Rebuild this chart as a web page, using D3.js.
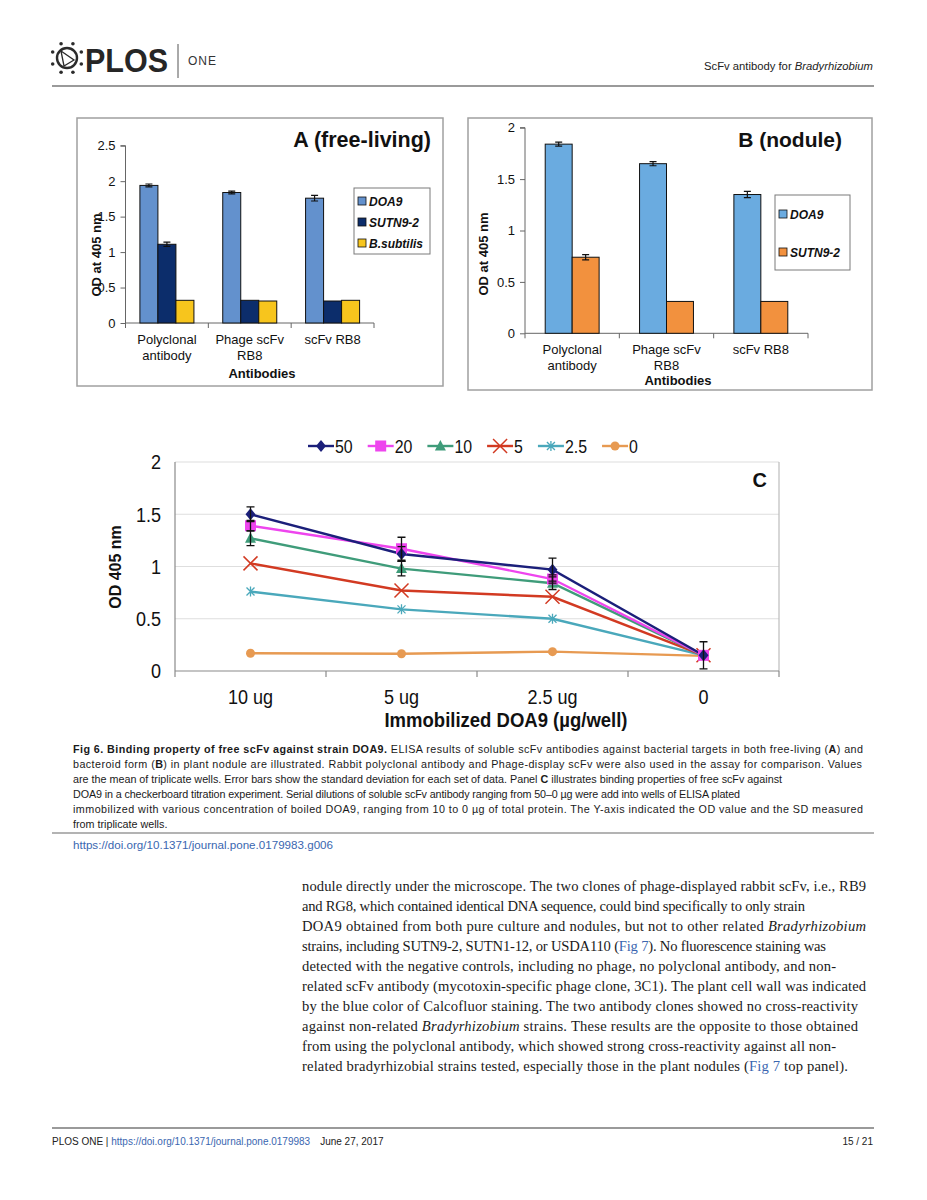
<!DOCTYPE html>
<html><head><meta charset="utf-8">
<script src="https://cdn.jsdelivr.net/npm/d3@7"></script>
<style>body{margin:0;background:#fff} svg{display:block}</style>
</head><body><svg id="page" width="927" height="1200"></svg>
<script>
// ---------- DATA ----------
const antibodyCategories = ["Polyclonal antibody", "Phage scFv RB8", "scFv RB8"];
const antibodyLabelLines = [["Polyclonal", "antibody"], ["Phage scFv", "RB8"], ["scFv RB8"]];

const seriesA = ["DOA9", "SUTN9-2", "B.subtilis"];
const valuesA_DOA9 = [1.94, 1.84, 1.76];
const valuesA_SUTN = [1.11, 0.32, 0.31];
const valuesA_Bsub = [0.32, 0.31, 0.32];
const errA_DOA9 = [0.02, 0.02, 0.04];
const errA_SUTN = [0.03, 0, 0];
const errA_Bsub = [0, 0, 0];
const ticksA = [0, 0.5, 1, 1.5, 2, 2.5];

const seriesB = ["DOA9", "SUTN9-2"];
const valuesB_DOA9 = [1.84, 1.65, 1.35];
const valuesB_SUTN = [0.74, 0.31, 0.31];
const errB_DOA9 = [0.02, 0.02, 0.03];
const errB_SUTN = [0.025, 0, 0];
const ticksB = [0, 0.5, 1, 1.5, 2];

const doseCategories = ["10 ug", "5 ug", "2.5 ug", "0"];
const scfvSeries = ["50", "20", "10", "5", "2.5", "0"];
const od50 = [1.50, 1.12, 0.97, 0.15];
const od20 = [1.39, 1.17, 0.88, 0.15];
const od10 = [1.27, 0.98, 0.84, 0.15];
const od5 = [1.03, 0.77, 0.71, 0.15];
const od2_5 = [0.76, 0.59, 0.50, 0.15];
const od0 = [0.17, 0.165, 0.185, 0.145];
const sd50 = [0.07, 0.07, 0.11, 0.13];
const sd20 = [0.05, 0.11, 0.04, 0];
const sd10 = [0.07, 0.07, 0.06, 0];
const sd5 = [0, 0, 0, 0];
const sd2_5 = [0, 0, 0, 0];
const sd0 = [0, 0, 0, 0];
const ticksC = [0, 0.5, 1, 1.5, 2];

// ---------- SETUP ----------
const SANS = "'Liberation Sans', Arial, sans-serif";
const SERIF = "'Liberation Serif', 'Times New Roman', serif";
const svg = d3.select("#page");
svg.append("rect").attr("width", 927).attr("height", 1200).attr("fill", "#fff");

// condensed text helper: places text at (x,y) with horizontal squeeze k
function ctext(parent, x, y, k, anchor) {
  return parent.append("text").attr("transform", `translate(${x},${y}) scale(${k},1)`).attr("x", 0).attr("y", 0)
    .attr("text-anchor", anchor || "start").attr("font-family", SANS);
}

// ---------- HEADER ----------
const hdr = svg.append("g");
const lc = [67, 58];
hdr.append("circle").attr("cx", lc[0]).attr("cy", lc[1]).attr("r", 10).attr("fill", "none").attr("stroke", "#2b2b2b").attr("stroke-width", 2.4);
hdr.append("path").attr("d", `M${lc[0]-6},${lc[1]-7} L${lc[0]+7},${lc[1]+2} L${lc[0]-3},${lc[1]+8} Z M${lc[0]-6},${lc[1]-7} L${lc[0]-3},${lc[1]+8}`)
  .attr("fill", "none").attr("stroke", "#2b2b2b").attr("stroke-width", 1.3);
d3.range(8).forEach(i => {
  const a = i * Math.PI / 4 + Math.PI / 8;
  hdr.append("circle").attr("cx", lc[0] + 15.5 * Math.cos(a)).attr("cy", lc[1] + 15.5 * Math.sin(a)).attr("r", 1.8).attr("fill", "#2b2b2b");
});
hdr.append("text").attr("x", 85).attr("y", 72).attr("font-family", SANS).attr("font-weight", 900).attr("font-size", 33)
  .attr("fill", "#262626").attr("textLength", 83).attr("lengthAdjust", "spacingAndGlyphs").text("PLOS");
hdr.append("line").attr("x1", 178).attr("x2", 178).attr("y1", 44).attr("y2", 78).attr("stroke", "#555").attr("stroke-width", 1);
hdr.append("text").attr("x", 188).attr("y", 65).attr("font-family", SANS).attr("font-size", 12).attr("letter-spacing", 1).attr("fill", "#333").text("ONE");
const hr = ctext(hdr, 873, 70, 0.98, "end").attr("font-size", 11.5).attr("fill", "#222");
hr.append("tspan").text("ScFv antibody for ");
hr.append("tspan").attr("font-style", "italic").text("Bradyrhizobium");
hdr.append("line").attr("x1", 52).attr("x2", 874).attr("y1", 86).attr("y2", 86).attr("stroke", "#9a9a9a").attr("stroke-width", 2);

// ---------- BAR PANELS ----------
function barPanel(o) {
  const g = svg.append("g");
  g.append("rect").attr("x", o.box[0]).attr("y", o.box[1]).attr("width", o.box[2]).attr("height", o.box[3])
    .attr("fill", "#fff").attr("stroke", "#a0a0a0").attr("stroke-width", 1.5);
  const y = d3.scaleLinear().domain([0, o.max]).range([o.y0, o.yTop]);
  const x0 = d3.scaleBand().domain(antibodyCategories).range([o.xL, o.xR]).paddingInner(0).paddingOuter(0);
  const x1 = d3.scaleBand().domain(o.series).range([0, x0.bandwidth()]).paddingInner(0).paddingOuter(o.pad);

  const yg = g.append("g").attr("transform", `translate(${o.xL},0)`)
    .call(d3.axisLeft(y).tickValues(o.ticks).tickSize(5).tickFormat(d3.format("~g")));
  yg.select(".domain").attr("stroke", "#666").attr("d", `M-5,${o.yTop}H0V${o.y0}`);
  yg.selectAll(".tick line").attr("stroke", "#666");
  yg.selectAll(".tick text").attr("font-family", SANS).attr("font-size", 13).attr("fill", "#111").attr("x", -10);

  const xg = g.append("g");
  xg.append("line").attr("x1", o.xL).attr("x2", o.xR).attr("y1", o.y0).attr("y2", o.y0).attr("stroke", "#666");
  const bounds = antibodyCategories.map(c => x0(c)).concat([o.xR]);
  xg.selectAll("line.tk").data(bounds).join("line").attr("class", "tk")
    .attr("x1", d => d).attr("x2", d => d).attr("y1", o.y0).attr("y2", o.y0 + 5).attr("stroke", "#666");
  antibodyCategories.forEach((c, i) => {
    const cx = x0(c) + x0.bandwidth() / 2;
    const t = g.append("text").attr("y", o.labY).attr("text-anchor", "middle").attr("font-family", SANS).attr("font-size", 13).attr("fill", "#111");
    antibodyLabelLines[i].forEach((ln, j) => t.append("tspan").attr("x", cx).attr("dy", j ? o.labDy : 0).text(ln));
  });
  g.append("text").attr("x", o.axTitle[0]).attr("y", o.axTitle[1]).attr("text-anchor", "middle").attr("font-family", SANS)
    .attr("font-weight", "bold").attr("font-size", 13).attr("fill", "#111").text("Antibodies");
  g.append("text").attr("transform", `translate(${o.yTitle[0]},${o.yTitle[1]}) rotate(-90)`).attr("text-anchor", "middle")
    .attr("font-family", SANS).attr("font-weight", "bold").attr("font-size", 13).attr("fill", "#111").text("OD at 405 nm");

  o.series.forEach((s, si) => {
    const vals = o.values[si], errs = o.errors[si];
    const data = antibodyCategories.map((c, i) => ({ c, v: vals[i], e: errs[i] }));
    g.selectAll(null).data(data).join("rect")
      .attr("x", d => x0(d.c) + x1(s)).attr("width", x1.bandwidth())
      .attr("y", d => y(d.v)).attr("height", d => o.y0 - y(d.v))
      .attr("fill", o.colors[si]).attr("stroke", "#111").attr("stroke-width", 1);
    const eb = data.filter(d => d.e > 0);
    const cx = d => x0(d.c) + x1(s) + x1.bandwidth() / 2;
    g.selectAll(null).data(eb).join("path")
      .attr("d", d => `M${cx(d) - 3.5},${y(d.v + d.e)}H${cx(d) + 3.5}M${cx(d)},${y(d.v + d.e)}V${y(d.v - d.e)}M${cx(d) - 3.5},${y(d.v - d.e)}H${cx(d) + 3.5}`)
      .attr("stroke", "#111").attr("stroke-width", 1.2).attr("fill", "none");
  });

  g.append("text").attr("x", o.title[0]).attr("y", o.title[1]).attr("text-anchor", "end").attr("font-family", SANS)
    .attr("font-weight", "bold").attr("font-size", o.titleSize).attr("fill", "#111").text(o.titleText);

  const lb = o.legend;
  g.append("rect").attr("x", lb.x).attr("y", lb.y).attr("width", lb.w).attr("height", lb.h).attr("fill", "#fff").attr("stroke", "#7a7a7a").attr("stroke-width", 1);
  o.series.forEach((s, si) => {
    const cy = lb.y + lb.first + si * lb.step;
    g.append("rect").attr("x", lb.x + 4).attr("y", cy - 4).attr("width", 8).attr("height", 8).attr("fill", o.colors[si]).attr("stroke", "#111").attr("stroke-width", 0.8);
    g.append("text").attr("x", lb.x + 15).attr("y", cy + 4.5).attr("font-family", SANS).attr("font-weight", "bold").attr("font-style", "italic")
      .attr("font-size", 12).attr("fill", "#111").text(s);
  });
}

barPanel({
  box: [77, 118, 366, 268], max: 2.5, ticks: ticksA, y0: 323, yTop: 145.7, xL: 125.5, xR: 374,
  pad: 0.8, series: seriesA, values: [valuesA_DOA9, valuesA_SUTN, valuesA_Bsub], errors: [errA_DOA9, errA_SUTN, errA_Bsub],
  colors: ["#6391cd", "#0c2d6b", "#f7c51d"], labY: 344, labDy: 16, axTitle: [262, 378], yTitle: [101, 255],
  title: [431, 147], titleSize: 21.5, titleText: "A (free-living)",
  legend: { x: 354, y: 188, w: 76, h: 66, first: 13, step: 21 }
});
barPanel({
  box: [468, 118, 404, 272], max: 2, ticks: ticksB, y0: 333.3, yTop: 127.7, xL: 525, xR: 808,
  pad: 0.75, series: seriesB, values: [valuesB_DOA9, valuesB_SUTN], errors: [errB_DOA9, errB_SUTN],
  colors: ["#6aabe0", "#f2913e"], labY: 354, labDy: 15.5, axTitle: [678, 384.5], yTitle: [488, 254],
  title: [842, 147], titleSize: 21, titleText: "B (nodule)",
  legend: { x: 775, y: 195, w: 75, h: 75, first: 19, step: 38 }
});

// ---------- PANEL C ----------
const KC = 0.86;
const gC = svg.append("g");
const yC = d3.scaleLinear().domain([0, 2]).range([671, 462]);
const xC = d3.scaleBand().domain(doseCategories).range([175, 779]);
gC.selectAll("line.grid").data(ticksC.filter(t => t > 0)).join("line").attr("class", "grid")
  .attr("x1", 175).attr("x2", 779).attr("y1", d => yC(d)).attr("y2", d => yC(d)).attr("stroke", "#dedede").attr("stroke-width", 1.2);
gC.append("line").attr("x1", 779).attr("x2", 779).attr("y1", yC(2)).attr("y2", yC(0)).attr("stroke", "#bdbdbd").attr("stroke-width", 1.2);
gC.append("line").attr("x1", 175).attr("x2", 175).attr("y1", yC(2)).attr("y2", yC(0)).attr("stroke", "#8a8a8a").attr("stroke-width", 1.2);
gC.append("line").attr("x1", 175).attr("x2", 779).attr("y1", yC(0)).attr("y2", yC(0)).attr("stroke", "#8a8a8a").attr("stroke-width", 1.2);
gC.selectAll("line.tk").data(doseCategories.map(c => xC(c)).concat([779])).join("line").attr("class", "tk")
  .attr("x1", d => d).attr("x2", d => d).attr("y1", yC(0)).attr("y2", yC(0) + 6).attr("stroke", "#8a8a8a").attr("stroke-width", 1.2);
ticksC.forEach(t => {
  ctext(gC, 161, yC(t) + 7.3, KC, "end").attr("font-size", 21).attr("fill", "#111").text(d3.format("~g")(t));
});
doseCategories.forEach(c => {
  ctext(gC, xC(c) + xC.bandwidth() / 2, 704, KC, "middle").attr("font-size", 21).attr("fill", "#111").text(c);
});
ctext(gC, 506, 727, 0.95, "middle").attr("font-weight", "bold").attr("font-size", 19.5).attr("fill", "#111").text("Immobilized DOA9 (µg/well)");
gC.append("text").attr("transform", "translate(121,567) rotate(-90)").attr("text-anchor", "middle").attr("font-family", SANS)
  .attr("font-weight", "bold").attr("font-size", 16).attr("fill", "#111").text("OD 405 nm");
ctext(gC, 767, 487, 0.95, "end").attr("font-weight", "bold").attr("font-size", 21).attr("fill", "#111").text("C");

const cSeries = [
  { name: scfvSeries[0], v: od50, sd: sd50, color: "#1b1f7a", marker: "diamond" },
  { name: scfvSeries[1], v: od20, sd: sd20, color: "#ee45ee", marker: "square" },
  { name: scfvSeries[2], v: od10, sd: sd10, color: "#3f9c7a", marker: "triangle" },
  { name: scfvSeries[3], v: od5, sd: sd5, color: "#d23a22", marker: "x" },
  { name: scfvSeries[4], v: od2_5, sd: sd2_5, color: "#4aa8bb", marker: "star" },
  { name: scfvSeries[5], v: od0, sd: sd0, color: "#e79a52", marker: "circle" }
];
function drawMarker(g, m, x, y, color) {
  if (m === "diamond") g.append("path").attr("d", `M${x},${y-6}L${x+5},${y}L${x},${y+6}L${x-5},${y}Z`).attr("fill", color);
  else if (m === "square") g.append("rect").attr("x", x - 5.5).attr("y", y - 5.5).attr("width", 11).attr("height", 11).attr("fill", color);
  else if (m === "triangle") g.append("path").attr("d", `M${x},${y-6}L${x+5.5},${y+4.5}L${x-5.5},${y+4.5}Z`).attr("fill", color);
  else if (m === "x") g.append("path").attr("d", `M${x-7},${y-7}L${x+7},${y+7}M${x+7},${y-7}L${x-7},${y+7}`).attr("stroke", color).attr("stroke-width", 1.5).attr("fill", "none");
  else if (m === "star") g.append("path").attr("d", `M${x-4},${y-4}L${x+4},${y+4}M${x+4},${y-4}L${x-4},${y+4}M${x},${y-5}L${x},${y+5}`).attr("stroke", color).attr("stroke-width", 1.3).attr("fill", "none");
  else g.append("circle").attr("cx", x).attr("cy", y).attr("r", 4.5).attr("fill", color);
}
const cx = c => xC(c) + xC.bandwidth() / 2;
const lineGen = d3.line().x(d => cx(d.c)).y(d => yC(d.v));
cSeries.slice().reverse().forEach(s => {
  const pts = doseCategories.map((c, i) => ({ c, v: s.v[i], e: s.sd[i] }));
  gC.append("path").datum(pts).attr("d", lineGen).attr("fill", "none").attr("stroke", s.color).attr("stroke-width", 2.4);
});
cSeries.slice().reverse().forEach(s => {
  const pts = doseCategories.map((c, i) => ({ c, v: s.v[i], e: s.sd[i] }));
  pts.forEach(p => drawMarker(gC, s.marker, cx(p.c), yC(p.v), s.color));
});
cSeries.forEach(s => {
  doseCategories.forEach((c, i) => {
    const e = s.sd[i], v = s.v[i], x = cx(c);
    if (e > 0) gC.append("path").attr("d", `M${x-4},${yC(v+e)}H${x+4}M${x},${yC(v+e)}V${yC(v-e)}M${x-4},${yC(v-e)}H${x+4}`)
      .attr("stroke", "#111").attr("stroke-width", 1.3).attr("fill", "none");
  });
});
// legend C
let lx = 308;
cSeries.forEach(s => {
  const ly = 446;
  gC.append("line").attr("x1", lx).attr("x2", lx + 26).attr("y1", ly).attr("y2", ly).attr("stroke", s.color).attr("stroke-width", 2.4);
  drawMarker(gC, s.marker, lx + 13, ly, s.color);
  const t = ctext(gC, lx + 27, ly + 6.5, KC, "start").attr("font-size", 18.5).attr("fill", "#111").text(s.name);
  lx += 27 + t.node().getComputedTextLength() * KC + 15;
});

// ---------- CAPTION ----------
const capLines = [
  { segs: [["b", "Fig 6. Binding property of free scFv against strain DOA9."], ["n", " ELISA results of soluble scFv antibodies against bacterial targets in both free-living ("], ["b", "A"], ["n", ") and"]], end: 863 },
  { segs: [["n", "bacteroid form ("], ["b", "B"], ["n", ") in plant nodule are illustrated. Rabbit polyclonal antibody and Phage-display scFv were also used in the assay for comparison. Values"]], end: 862 },
  { segs: [["n", "are the mean of triplicate wells. Error bars show the standard deviation for each set of data. Panel "], ["b", "C"], ["n", " illustrates binding properties of free scFv against"]], end: 782 },
  { segs: [["n", "DOA9 in a checkerboard titration experiment. Serial dilutions of soluble scFv antibody ranging from 50–0 µg were add into wells of ELISA plated"]], end: 740 },
  { segs: [["n", "immobilized with various concentration of boiled DOA9, ranging from 10 to 0 µg of total protein. The Y-axis indicated the OD value and the SD measured"]], end: 863 },
  { segs: [["n", "from triplicate wells."]], end: null }
];
const CAPFS = 11.8;
const capNodes = capLines.map((ln, i) => {
  const t = svg.append("text").attr("font-family", SANS).attr("font-size", CAPFS).attr("fill", "#1a1a1a");
  ln.segs.forEach(s => t.append("tspan").attr("font-weight", s[0] === "b" ? "bold" : null).text(s[1]));
  return t;
});
const capK = (782 - 73) / capNodes[2].node().getComputedTextLength();
capNodes.forEach((t, i) => {
  const ln = capLines[i];
  t.attr("transform", `translate(73,${753 + i * 14.9}) scale(${capK},1)`).attr("x", 0).attr("y", 0);
  if (ln.end) t.attr("textLength", (ln.end - 73) / capK).attr("lengthAdjust", "spacing");
});
svg.append("line").attr("x1", 52).attr("x2", 874).attr("y1", 833).attr("y2", 833).attr("stroke", "#9a9a9a").attr("stroke-width", 1.5);
svg.append("text").attr("x", 73).attr("y", 849).attr("font-family", SANS).attr("font-size", 11).attr("fill", "#3a66b0")
  .attr("textLength", 260).attr("lengthAdjust", "spacingAndGlyphs").text("https://doi.org/10.1371/journal.pone.0179983.g006");

// ---------- BODY TEXT ----------
const bodyLines = [
  { segs: [["n", "nodule directly under the microscope. The two clones of phage-displayed rabbit scFv, i.e., RB9"]], end: 866 },
  { segs: [["n", "and RG8, which contained identical DNA sequence, could bind specifically to only strain"]], end: 805 },
  { segs: [["n", "DOA9 obtained from both pure culture and nodules, but not to other related "], ["i", "Bradyrhizobium"]], end: 866 },
  { segs: [["n", "strains, including SUTN9-2, SUTN1-12, or USDA110 ("], ["l", "Fig 7"], ["n", "). No fluorescence staining was"]], end: 826 },
  { segs: [["n", "detected with the negative controls, including no phage, no polyclonal antibody, and non-"]], end: 836 },
  { segs: [["n", "related scFv antibody (mycotoxin-specific phage clone, 3C1). The plant cell wall was indicated"]], end: 866 },
  { segs: [["n", "by the blue color of Calcofluor staining. The two antibody clones showed no cross-reactivity"]], end: 858 },
  { segs: [["n", "against non-related "], ["i", "Bradyrhizobium"], ["n", " strains. These results are the opposite to those obtained"]], end: 858 },
  { segs: [["n", "from using the polyclonal antibody, which showed strong cross-reactivity against all non-"]], end: 836 },
  { segs: [["n", "related bradyrhizobial strains tested, especially those in the plant nodules ("], ["l", "Fig 7"], ["n", " top panel)."]], end: 848 }
];
bodyLines.forEach((ln, i) => {
  const t = svg.append("text").attr("x", 302).attr("y", 891 + i * 20).attr("font-family", SERIF).attr("font-size", 14.6).attr("fill", "#1a1a1a")
    .attr("textLength", ln.end - 302).attr("lengthAdjust", "spacing");
  ln.segs.forEach(s => {
    const sp = t.append("tspan").text(s[1]);
    if (s[0] === "i") sp.attr("font-style", "italic");
    if (s[0] === "l") sp.attr("fill", "#3a66b0");
  });
});

// ---------- FOOTER ----------
svg.append("line").attr("x1", 52).attr("x2", 874).attr("y1", 1128).attr("y2", 1128).attr("stroke", "#9a9a9a").attr("stroke-width", 2);
const ft = ctext(svg, 52, 1145, 0.87, "start").attr("font-size", 11.5).attr("fill", "#222");
ft.append("tspan").text("PLOS ONE | ");
ft.append("tspan").attr("fill", "#3a66b0").text("https://doi.org/10.1371/journal.pone.0179983");
ft.append("tspan").text("\u2003June 27, 2017");
ctext(svg, 873, 1145, 0.87, "end").attr("font-size", 11.5).attr("fill", "#222").text("15 / 21");
</script>
</body></html>
